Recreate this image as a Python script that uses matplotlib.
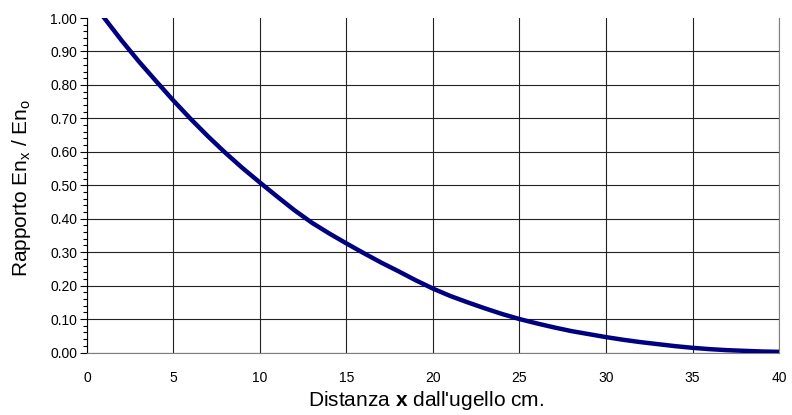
import matplotlib
matplotlib.use('Agg')
import matplotlib.pyplot as plt
from matplotlib.ticker import MultipleLocator

plt.rcParams['font.family'] = ['Liberation Sans', 'DejaVu Sans']
plt.rcParams['mathtext.fontset'] = 'custom'
plt.rcParams['mathtext.rm'] = 'Liberation Sans'
plt.rcParams['mathtext.bf'] = 'Liberation Sans:bold'

# values, one per cm
distanza = list(range(1, 41))
rapporto = [1.000, 0.933, 0.870, 0.811, 0.753, 0.698, 0.646, 0.597, 0.551, 0.508,
            0.466, 0.425, 0.388, 0.356, 0.326, 0.297, 0.269, 0.243, 0.216, 0.191,
            0.169, 0.150, 0.132, 0.115, 0.100, 0.087, 0.075, 0.064, 0.055, 0.046,
            0.038, 0.031, 0.025, 0.019, 0.014, 0.010, 0.007, 0.005, 0.003, 0.002]

x_ticks = list(range(0, 41, 5))
y_ticks = [i / 10 for i in range(11)]

fig = plt.figure(figsize=(7.92, 4.15), dpi=100)
ax = fig.add_axes([0.1098, 0.1506, 0.8738, 0.806])

ax.plot(distanza, rapporto, color='#000080', lw=3.2, solid_joinstyle='round', zorder=3)

ax.set_xlim(0, 40)
ax.set_ylim(0, 1.0)
ax.set_xticks(x_ticks)
ax.set_yticks(y_ticks)
ax.set_yticklabels(['%.2f' % v for v in y_ticks])
ax.yaxis.set_minor_locator(MultipleLocator(0.02))

ax.grid(True, which='major', color='#222222', lw=0.8)
ax.set_axisbelow(True)
# no line along the top edge
ax.get_ygridlines()[-1].set_visible(False)

ax.tick_params(axis='x', length=0, pad=13, labelsize=10)
ax.tick_params(axis='y', which='major', length=5, width=0.8, pad=2, labelsize=10)
ax.tick_params(axis='y', which='minor', length=3, width=0.8)

ax.spines['top'].set_visible(False)
ax.spines['right'].set_color('#808080')
ax.spines['bottom'].set_color('#808080')
ax.spines['left'].set_color('black')

ax.set_xlabel("Distanza $\\mathbf{x}$ dall'ugello cm.", fontsize=15)
ax.xaxis.set_label_coords(0.49, -0.108)
ax.set_ylabel('Rapporto En$_\\mathregular{x}$ / En$_\\mathregular{o}$', fontsize=15)
ax.yaxis.set_label_coords(-0.078, 0.493)

fig.savefig('out.png', dpi=100)
